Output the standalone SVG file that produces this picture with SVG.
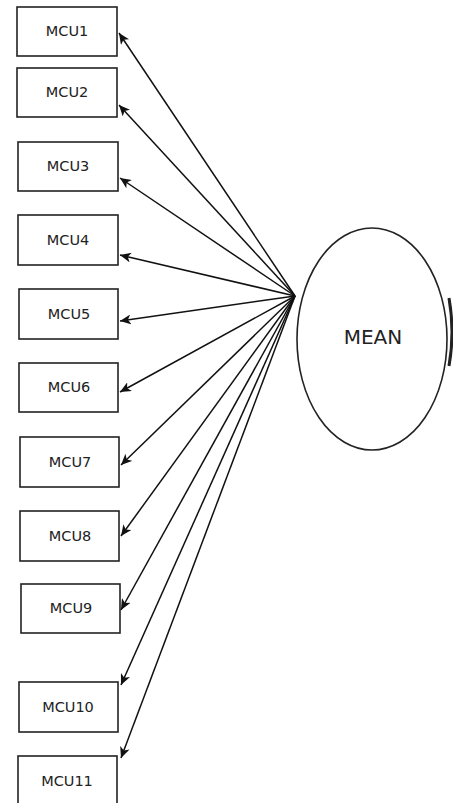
<svg xmlns="http://www.w3.org/2000/svg" width="453" height="803" viewBox="0 0 453 803">
  <style>
    .box { fill: #ffffff; stroke: #222; stroke-width: 1.6; }
    .lbl { font-family: "DejaVu Sans", Verdana, sans-serif; font-size: 14.5px; fill: #222; text-anchor: middle; }
    .big { font-family: "DejaVu Sans", Verdana, sans-serif; font-size: 20px; fill: #222; text-anchor: middle; }
    .edge { stroke: #111; stroke-width: 1.5; fill: none; marker-end: url(#arrow); }
  </style>
  <defs>
    <marker id="arrow" markerWidth="12" markerHeight="10" refX="11" refY="5" orient="auto" markerUnits="userSpaceOnUse">
      <path d="M0,0 L11,5 L0,10 L3,5 Z" fill="#111"/>
    </marker>
  </defs>
  <rect width="453" height="803" fill="#ffffff"/>

  <g id="n-mcu1"><rect class="box" x="17" y="7" width="100" height="49"/><text class="lbl" x="67" y="36">MCU1</text></g>
  <g id="n-mcu2"><rect class="box" x="17" y="68" width="100" height="49"/><text class="lbl" x="67" y="97">MCU2</text></g>
  <g id="n-mcu3"><rect class="box" x="18" y="142" width="100" height="49"/><text class="lbl" x="68" y="171">MCU3</text></g>
  <g id="n-mcu4"><rect class="box" x="18" y="215" width="100" height="50"/><text class="lbl" x="68" y="245">MCU4</text></g>
  <g id="n-mcu5"><rect class="box" x="19" y="289" width="99" height="50"/><text class="lbl" x="69" y="319">MCU5</text></g>
  <g id="n-mcu6"><rect class="box" x="19" y="363" width="99" height="49"/><text class="lbl" x="69" y="392">MCU6</text></g>
  <g id="n-mcu7"><rect class="box" x="20" y="437" width="99" height="50"/><text class="lbl" x="70" y="467">MCU7</text></g>
  <g id="n-mcu8"><rect class="box" x="20" y="511" width="99" height="50"/><text class="lbl" x="70" y="541">MCU8</text></g>
  <g id="n-mcu9"><rect class="box" x="21" y="584" width="99" height="49"/><text class="lbl" x="71" y="613">MCU9</text></g>
  <g id="n-mcu10"><rect class="box" x="19" y="682" width="99" height="50"/><text class="lbl" x="68" y="712">MCU10</text></g>
  <g id="n-mcu11"><rect class="box" x="18" y="756" width="99" height="50"/><text class="lbl" x="67" y="786">MCU11</text></g>

  <g id="n-mean">
    <ellipse cx="372" cy="339" rx="75" ry="111" fill="#ffffff" stroke="#222" stroke-width="1.6"/>
    <text class="big" x="373" y="344">MEAN</text>
  </g>
  <!-- edge of a shape cut off at the right margin -->
  <path d="M449,298 Q455,332 449,366" stroke="#222" stroke-width="3" fill="none"/>

  <g id="connectors">
    <line class="edge" x1="295" y1="296" x2="119" y2="33"/>
    <line class="edge" x1="295" y1="296" x2="119" y2="105"/>
    <line class="edge" x1="295" y1="296" x2="120" y2="178"/>
    <line class="edge" x1="295" y1="296" x2="120" y2="255"/>
    <line class="edge" x1="295" y1="296" x2="120" y2="321"/>
    <line class="edge" x1="295" y1="296" x2="120" y2="392"/>
    <line class="edge" x1="295" y1="296" x2="121" y2="465"/>
    <line class="edge" x1="295" y1="296" x2="121" y2="536"/>
    <line class="edge" x1="295" y1="296" x2="121" y2="610"/>
    <line class="edge" x1="295" y1="296" x2="121" y2="685"/>
    <line class="edge" x1="295" y1="296" x2="121" y2="758"/>
  </g>
</svg>
